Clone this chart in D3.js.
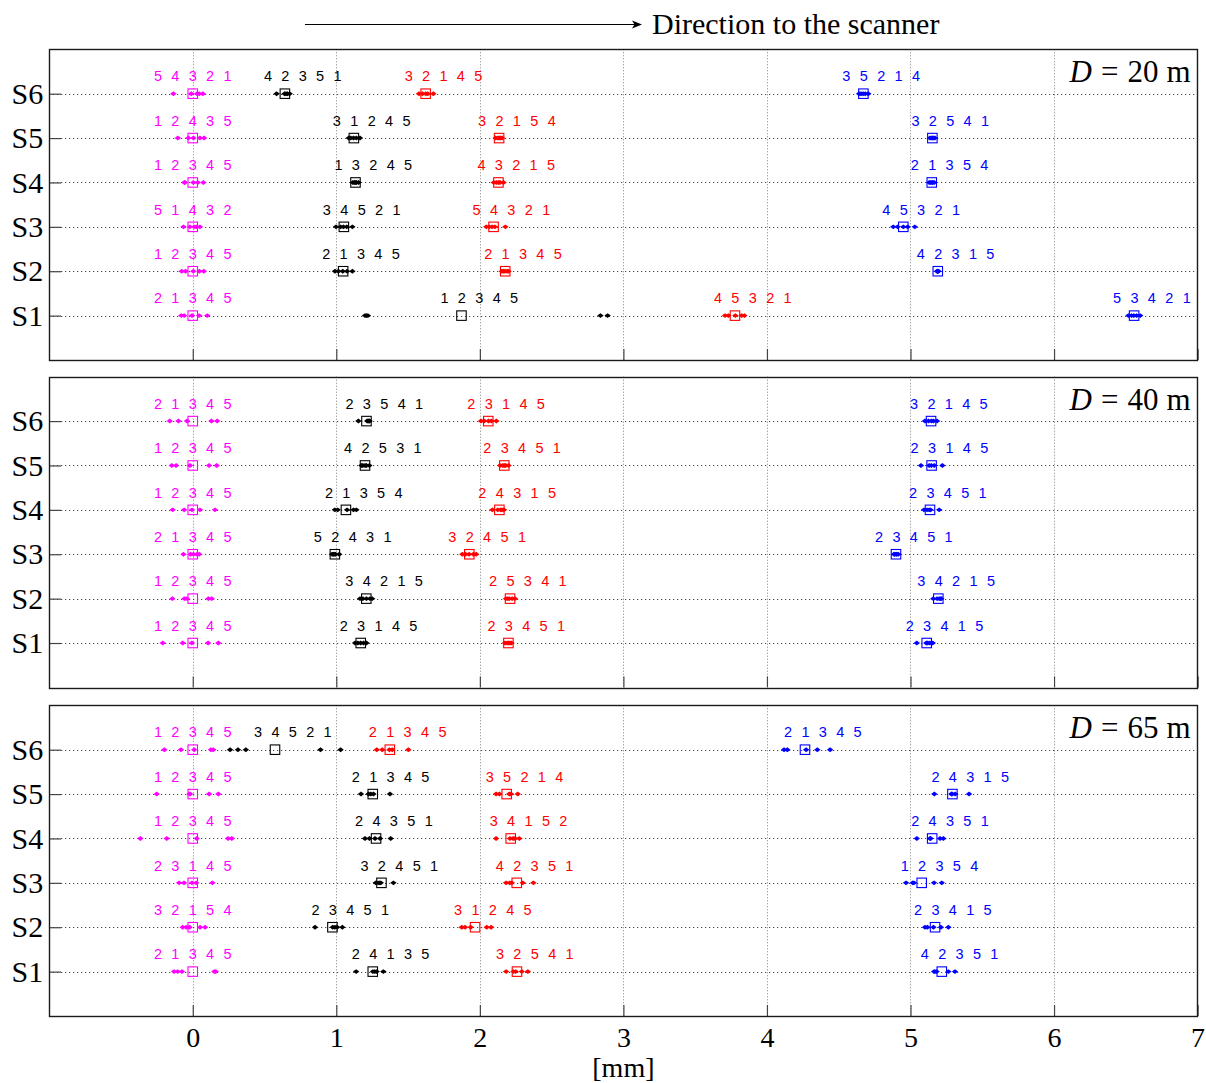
<!DOCTYPE html>
<html><head><meta charset="utf-8">
<script src="https://cdn.jsdelivr.net/npm/d3@7"></script>
<style>
html,body{margin:0;padding:0;background:#fff;}
svg{display:block;}
</style></head><body>
<svg id="chart" width="1206" height="1083"></svg>
<script>
// ---- data -------------------------------------------------------------
const rows = ["S1", "S2", "S3", "S4", "S5", "S6"];
const distances = [20, 40, 65];
const xTicks = [0, 1, 2, 3, 4, 5, 6, 7];

// five repeated measurements per station [mm], rows S1..S6
const magenta20 = [[-0.08,-0.06,-0.005,0.044,0.101],[-0.077,-0.05,0.004,0.046,0.077],[-0.065,-0.02,0.01,0.025,0.05],[-0.058,-0.055,0.004,0.035,0.074],[-0.104,-0.03,0.005,0.05,0.079],[-0.135,-0.01,0.03,0.045,0.07]];
const black20 = [[1.2,1.21,1.22,2.84,2.89],[0.991,1.015,1.045,1.075,1.112],[0.998,1.03,1.05,1.073,1.112],[1.115,1.125,1.133,1.14,1.155],[1.087,1.1,1.12,1.14,1.165],[0.584,0.64,0.65,0.66,0.675]];
const red20 = [[3.708,3.731,3.78,3.824,3.843],[2.153,2.165,2.175,2.19,2.2],[2.045,2.065,2.085,2.105,2.178],[2.097,2.115,2.13,2.14,2.165],[2.11,2.125,2.135,2.145,2.155],[1.576,1.6,1.623,1.637,1.676]];
const blue20 = [[6.518,6.54,6.555,6.575,6.6],[5.185,5.188,5.19,5.192,5.195],[4.88,4.91,4.95,4.98,5.03],[5.13,5.14,5.15,5.155,5.165],[5.135,5.145,5.152,5.16,5.17],[4.642,4.655,4.67,4.685,4.706]];

const magenta40 = [[-0.209,-0.07,-0.006,0.107,0.178],[-0.142,-0.058,-0.041,0.109,0.132],[-0.065,-0.015,0.005,0.03,0.045],[-0.14,-0.06,-0.005,0.05,0.155],[-0.146,-0.116,-0.019,0.114,0.167],[-0.16,-0.1,-0.04,0.13,0.17]];
const black40 = [[1.131,1.15,1.17,1.19,1.21],[1.165,1.185,1.21,1.235,1.25],[0.97,0.98,0.985,0.995,1.02],[0.99,1.01,1.075,1.12,1.14],[1.175,1.185,1.2,1.21,1.23],[1.154,1.215,1.222,1.228,1.232]];
const red40 = [[2.175,2.19,2.2,2.21,2.22],[2.182,2.195,2.205,2.225,2.245],[1.878,1.9,1.925,1.955,1.975],[2.087,2.125,2.145,2.155,2.168],[2.141,2.16,2.17,2.18,2.2],[2.008,2.03,2.06,2.08,2.115]];
const blue40 = [[5.044,5.11,5.12,5.135,5.155],[5.159,5.185,5.2,5.21,5.215],[4.885,4.89,4.9,4.905,4.915],[5.094,5.115,5.13,5.14,5.2],[5.073,5.13,5.145,5.165,5.222],[5.101,5.125,5.145,5.16,5.185]];

const magenta65 = [[-0.13,-0.105,-0.075,0.15,0.16],[-0.07,-0.045,-0.022,0.051,0.086],[-0.095,-0.061,-0.005,0.024,0.137],[-0.365,-0.181,0.028,0.246,0.272],[-0.251,-0.022,-0.019,0.114,0.178],[-0.198,-0.082,0.01,0.127,0.143]];
const black65 = [[1.138,1.255,1.268,1.281,1.328],[0.852,0.975,0.99,1.006,1.042],[1.275,1.29,1.3,1.31,1.398],[1.2,1.231,1.27,1.305,1.379],[1.172,1.225,1.24,1.259,1.374],[0.26,0.315,0.37,0.89,1.03]];
const red65 = [[2.183,2.234,2.25,2.292,2.334],[1.874,1.897,1.936,2.048,2.078],[2.183,2.208,2.222,2.299,2.373],[2.113,2.21,2.232,2.245,2.275],[2.113,2.136,2.205,2.217,2.264],[1.282,1.32,1.37,1.39,1.502]];
const blue65 = [[5.164,5.17,5.182,5.264,5.31],[5.101,5.118,5.16,5.212,5.264],[4.969,5.015,5.024,5.164,5.218],[5.044,5.136,5.14,5.206,5.229],[5.166,5.285,5.29,5.311,5.408],[4.119,4.142,4.273,4.351,4.44]];

// measurement numbers from left to right, rows S1..S6
const magentaOrder20 = ["2 1 3 4 5","1 2 3 4 5","5 1 4 3 2","1 2 3 4 5","1 2 4 3 5","5 4 3 2 1"];
const blackOrder20   = ["1 2 3 4 5","2 1 3 4 5","3 4 5 2 1","1 3 2 4 5","3 1 2 4 5","4 2 3 5 1"];
const redOrder20     = ["4 5 3 2 1","2 1 3 4 5","5 4 3 2 1","4 3 2 1 5","3 2 1 5 4","3 2 1 4 5"];
const blueOrder20    = ["5 3 4 2 1","4 2 3 1 5","4 5 3 2 1","2 1 3 5 4","3 2 5 4 1","3 5 2 1 4"];

const magentaOrder40 = ["1 2 3 4 5","1 2 3 4 5","2 1 3 4 5","1 2 3 4 5","1 2 3 4 5","2 1 3 4 5"];
const blackOrder40   = ["2 3 1 4 5","3 4 2 1 5","5 2 4 3 1","2 1 3 5 4","4 2 5 3 1","2 3 5 4 1"];
const redOrder40     = ["2 3 4 5 1","2 5 3 4 1","3 2 4 5 1","2 4 3 1 5","2 3 4 5 1","2 3 1 4 5"];
const blueOrder40    = ["2 3 4 1 5","3 4 2 1 5","2 3 4 5 1","2 3 4 5 1","2 3 1 4 5","3 2 1 4 5"];

const magentaOrder65 = ["2 1 3 4 5","3 2 1 5 4","2 3 1 4 5","1 2 3 4 5","1 2 3 4 5","1 2 3 4 5"];
const blackOrder65   = ["2 4 1 3 5","2 3 4 5 1","3 2 4 5 1","2 4 3 5 1","2 1 3 4 5","3 4 5 2 1"];
const redOrder65     = ["3 2 5 4 1","3 1 2 4 5","4 2 3 5 1","3 4 1 5 2","3 5 2 1 4","2 1 3 4 5"];
const blueOrder65    = ["4 2 3 5 1","2 3 4 1 5","1 2 3 5 4","2 4 3 5 1","2 4 3 1 5","2 1 3 4 5"];

// ---- assemble panels ----------------------------------------------------
const seriesNames = ["magenta", "black", "red", "blue"];
const colors = {magenta: "#ff00ff", black: "#000000", red: "#ff0000", blue: "#0000ff"};
const panels = [
  {D: distances[0], values: [magenta20, black20, red20, blue20], orders: [magentaOrder20, blackOrder20, redOrder20, blueOrder20]},
  {D: distances[1], values: [magenta40, black40, red40, blue40], orders: [magentaOrder40, blackOrder40, redOrder40, blueOrder40]},
  {D: distances[2], values: [magenta65, black65, red65, blue65], orders: [magentaOrder65, blackOrder65, redOrder65, blueOrder65]}
];

// ---- layout ------------------------------------------------------------
const W = 1206, H = 1083;
const plotLeft = 49.2, plotRight = 1197.6;
const panelTops = [49.3, 376.7, 705.3];
const panelHeight = 310.7;
const serif = "'Liberation Serif','Times New Roman',serif";
const sans = "'Liberation Sans',Arial,sans-serif";
const labelSize = 14.5, labelSpacing = 2.65;

const x = d3.scaleLinear().domain([-1, 7]).range([plotLeft, plotRight]);
const crisp = v => Math.round(v) + 0.5;

const svg = d3.select("#chart");
svg.append("rect").attr("width", W).attr("height", H).attr("fill", "#fff");

// small filled diamond used for the single measurements
const diamond = {
  draw(ctx, size) {
    const w = Math.sqrt(size) * 0.75, h = Math.sqrt(size) * 0.58;
    ctx.moveTo(-w, 0); ctx.lineTo(0, -h); ctx.lineTo(w, 0); ctx.lineTo(0, h); ctx.closePath();
  }
};
const diamondPath = d3.symbol().type(diamond).size(18)();

panels.forEach((p, pi) => {
  const top = panelTops[pi];
  const bottom = top + panelHeight;
  const y = d3.scaleLinear().domain([0, 7]).range([bottom, top]);
  const g = svg.append("g");

  // dotted grid
  g.append("g").selectAll("line").data(xTicks.filter(t => t < 7)).join("line")
    .attr("x1", d => crisp(x(d))).attr("x2", d => crisp(x(d)))
    .attr("y1", top).attr("y2", bottom)
    .attr("stroke", "#808080").attr("stroke-width", 1).attr("stroke-dasharray", "1,2");
  g.append("g").selectAll("line").data(d3.range(1, 7)).join("line")
    .attr("x1", plotLeft).attr("x2", plotRight)
    .attr("y1", d => crisp(y(d))).attr("y2", d => crisp(y(d)))
    .attr("stroke", "#222").attr("stroke-width", 1).attr("stroke-dasharray", "1,3");

  // axes (inward ticks)
  const xAxis = d3.axisBottom(x).tickValues(xTicks)
    .tickSizeInner(-11).tickSizeOuter(0).tickPadding(11)
    .tickFormat(pi === 2 ? d3.format("d") : () => "");
  const gx = g.append("g").attr("transform", `translate(0,${bottom})`).call(xAxis);
  gx.select(".domain").remove();
  gx.selectAll("line").attr("stroke", "#444").attr("stroke-width", 1.2);
  gx.selectAll("text").attr("font-family", serif).attr("font-size", 28).attr("fill", "#000");

  const yAxis = d3.axisLeft(y).tickValues(d3.range(1, 7))
    .tickSizeInner(-12).tickSizeOuter(0).tickPadding(6)
    .tickFormat(d => rows[d - 1]);
  const gy = g.append("g").attr("transform", `translate(${plotLeft},0)`).call(yAxis);
  gy.select(".domain").remove();
  gy.selectAll("line").attr("stroke", "#444").attr("stroke-width", 1.2);
  gy.selectAll("text").attr("font-family", serif).attr("font-size", 30).attr("fill", "#000");

  // frame
  g.append("rect").attr("x", crisp(plotLeft)).attr("y", crisp(top))
    .attr("width", Math.round(plotRight - plotLeft)).attr("height", Math.round(panelHeight))
    .attr("fill", "none").attr("stroke", "#1a1a1a").attr("stroke-width", 1.4);

  // measurement groups
  seriesNames.forEach((name, si) => {
    const col = colors[name];
    const vals = p.values[si];
    const orders = p.orders[si];
    rows.forEach((r, ri) => {
      const yy = y(ri + 1);
      const m = d3.mean(vals[ri]);
      const gg = g.append("g");
      gg.append("rect")
        .attr("x", x(m) - 4.75).attr("y", yy - 4.75).attr("width", 9.5).attr("height", 9.5)
        .attr("fill", "none").attr("stroke", col).attr("stroke-width", 1.1);
      gg.selectAll("path").data(vals[ri]).join("path")
        .attr("d", diamondPath)
        .attr("transform", d => `translate(${x(d)},${yy})`)
        .attr("fill", col);
      const t = gg.append("text")
        .attr("y", yy - 12.3)
        .attr("font-family", sans).attr("font-size", labelSize)
        .attr("letter-spacing", labelSpacing)
        .attr("fill", col)
        .text(orders[ri]);
      if (si === 0) {
        const w = t.node().getComputedTextLength() - labelSpacing;
        t.attr("x", x(m) - w / 2);
      } else {
        t.attr("x", x(m) - 21);
      }
    });
  });

  // distance label
  const dl = g.append("text")
    .attr("x", plotRight - 7).attr("y", top + 33)
    .attr("text-anchor", "end")
    .attr("font-family", serif).attr("font-size", 31).attr("fill", "#000");
  dl.append("tspan").attr("font-style", "italic").text("D");
  dl.append("tspan").attr("dx", 9).text("=");
  dl.append("tspan").attr("dx", 9).text(String(p.D));
  dl.append("tspan").attr("dx", 8).text("m");
});

// x-axis unit
svg.append("text")
  .attr("x", x(3)).attr("y", 1077)
  .attr("text-anchor", "middle")
  .attr("font-family", serif).attr("font-size", 28).attr("fill", "#000")
  .text("[mm]");

// direction arrow and caption
svg.append("line")
  .attr("x1", 305).attr("x2", 636).attr("y1", 24.5).attr("y2", 24.5)
  .attr("stroke", "#000").attr("stroke-width", 1.2);
svg.append("path")
  .attr("d", "M632,20.5 L642,24.5 L632,28.5 L634.5,24.5 Z")
  .attr("fill", "#000");
svg.append("text")
  .attr("x", 652).attr("y", 34)
  .attr("font-family", serif).attr("font-size", 30).attr("fill", "#000")
  .text("Direction to the scanner");
</script>
</body></html>
